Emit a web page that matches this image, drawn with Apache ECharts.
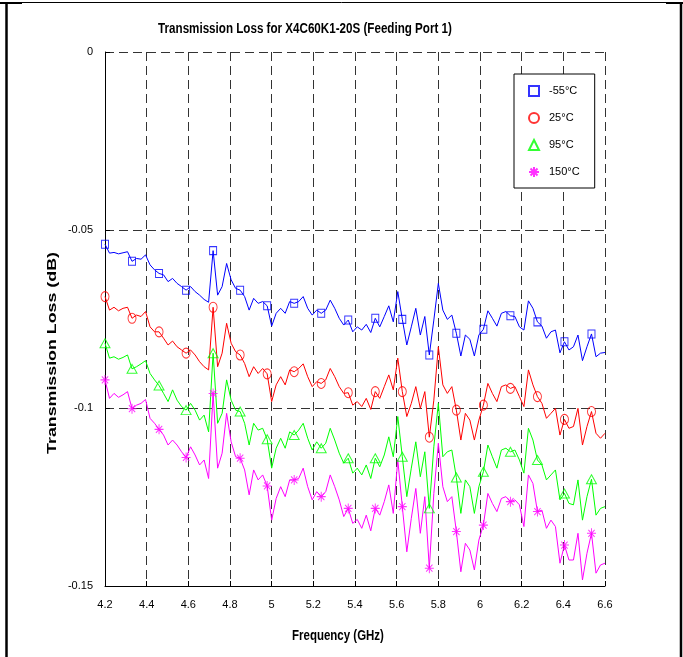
<!DOCTYPE html>
<html>
<head>
<meta charset="utf-8">
<script src="https://cdn.jsdelivr.net/npm/echarts@6/dist/echarts.min.js"></script>
<style>
html,body{margin:0;padding:0;background:#fff;}
#chart{width:683px;height:657px;}
</style>
</head>
<body>
<div id="chart"></div>
<script>
// Frequency sweep (GHz): measurement grid
const FREQ_START = 4.2;
const FREQ_STOP = 6.6;
const N_POINTS = 112;
const MARKER_STEP = 6;

const seriesNames = ['-55°C', '25°C', '95°C', '150°C'];

const loss_m55 = [
 -0.0540,-0.0565,-0.0563,-0.0567,-0.0564,-0.0561,-0.0588,-0.0580,-0.0582,-0.0570,
 -0.0598,-0.0612,-0.0622,-0.0626,-0.0645,-0.0636,-0.0650,-0.0659,-0.0669,-0.0659,
 -0.0673,-0.0683,-0.0695,-0.0703,-0.0558,-0.0683,-0.0659,-0.0594,-0.0640,-0.0664,
 -0.0669,-0.0687,-0.0725,-0.0692,-0.0706,-0.0701,-0.0713,-0.0770,-0.0734,-0.0720,
 -0.0734,-0.0701,-0.0706,-0.0701,-0.0687,-0.0720,-0.0739,-0.0725,-0.0734,-0.0725,
 -0.0697,-0.0720,-0.0748,-0.0767,-0.0753,-0.0786,-0.0772,-0.0781,-0.0765,-0.0788,
 -0.0748,-0.0772,-0.0743,-0.0713,-0.0758,-0.0673,-0.0751,-0.0823,-0.0772,-0.0720,
 -0.0795,-0.0743,-0.0851,-0.0753,-0.0650,-0.0725,-0.0751,-0.0739,-0.0790,-0.0854,
 -0.0795,-0.0807,-0.0854,-0.0795,-0.0779,-0.0727,-0.0748,-0.0770,-0.0734,-0.0729,
 -0.0741,-0.0743,-0.0772,-0.0781,-0.0699,-0.0720,-0.0758,-0.0770,-0.0804,-0.0786,
 -0.0781,-0.0845,-0.0814,-0.0837,-0.0828,-0.0795,-0.0867,-0.0828,-0.0792,-0.0856,
 -0.0846,-0.0844
];
const loss_25 = [
 -0.0687,-0.0725,-0.0717,-0.0727,-0.0720,-0.0717,-0.0748,-0.0739,-0.0743,-0.0729,
 -0.0772,-0.0786,-0.0786,-0.0804,-0.0823,-0.0812,-0.0828,-0.0837,-0.0846,-0.0837,
 -0.0851,-0.0870,-0.0884,-0.0893,-0.0717,-0.0884,-0.0846,-0.0762,-0.0818,-0.0842,
 -0.0851,-0.0875,-0.0912,-0.0884,-0.0903,-0.0889,-0.0904,-0.0982,-0.0935,-0.0912,
 -0.0935,-0.0893,-0.0898,-0.0889,-0.0876,-0.0912,-0.0940,-0.0926,-0.0931,-0.0921,
 -0.0889,-0.0912,-0.0940,-0.0959,-0.0957,-0.0992,-0.0982,-0.0996,-0.0973,-0.1004,
 -0.0954,-0.0973,-0.0940,-0.0907,-0.0949,-0.0860,-0.0954,-0.1024,-0.0987,-0.0940,
 -0.1001,-0.0954,-0.1082,-0.0978,-0.0828,-0.0935,-0.0959,-0.0940,-0.1006,-0.1090,
 -0.1015,-0.1034,-0.1090,-0.1034,-0.0992,-0.0931,-0.0959,-0.0982,-0.0940,-0.0935,
 -0.0945,-0.0940,-0.0968,-0.0996,-0.0893,-0.0935,-0.0968,-0.0987,-0.1029,-0.1015,
 -0.1001,-0.1076,-0.1032,-0.1057,-0.1052,-0.1001,-0.1104,-0.1052,-0.1010,-0.1071,
 -0.1085,-0.1071
];
const loss_95 = [
 -0.0818,-0.0860,-0.0856,-0.0863,-0.0858,-0.0851,-0.0890,-0.0884,-0.0876,-0.0867,
 -0.0903,-0.0921,-0.0937,-0.0959,-0.0982,-0.0949,-0.0978,-0.0996,-0.1006,-0.0987,
 -0.1006,-0.1034,-0.1020,-0.1067,-0.0846,-0.1043,-0.1015,-0.0921,-0.0978,-0.1006,
 -0.1010,-0.1043,-0.1104,-0.1043,-0.1062,-0.1057,-0.1088,-0.1169,-0.1113,-0.1085,
 -0.1113,-0.1067,-0.1076,-0.1062,-0.1043,-0.1085,-0.1118,-0.1095,-0.1113,-0.1099,
 -0.1057,-0.1090,-0.1127,-0.1155,-0.1141,-0.1183,-0.1169,-0.1188,-0.1160,-0.1198,
 -0.1141,-0.1165,-0.1132,-0.1081,-0.1137,-0.1024,-0.1137,-0.1249,-0.1169,-0.1095,
 -0.1193,-0.1123,-0.1282,-0.1109,-0.0987,-0.1137,-0.1123,-0.1118,-0.1195,-0.1296,
 -0.1202,-0.1221,-0.1296,-0.1221,-0.1179,-0.1104,-0.1137,-0.1169,-0.1118,-0.1113,
 -0.1123,-0.1118,-0.1146,-0.1183,-0.1057,-0.1090,-0.1146,-0.1160,-0.1202,-0.1188,
 -0.1174,-0.1258,-0.1240,-0.1268,-0.1272,-0.1202,-0.1315,-0.1249,-0.1200,-0.1301,
 -0.1282,-0.1277
];
const loss_150 = [
 -0.0921,-0.0973,-0.0959,-0.0970,-0.0963,-0.0954,-0.1002,-0.0992,-0.0987,-0.0976,
 -0.1029,-0.1043,-0.1060,-0.1076,-0.1104,-0.1090,-0.1104,-0.1123,-0.1139,-0.1109,
 -0.1132,-0.1160,-0.1146,-0.1198,-0.0959,-0.1169,-0.1127,-0.1015,-0.1095,-0.1137,
 -0.1141,-0.1174,-0.1244,-0.1174,-0.1202,-0.1188,-0.1219,-0.1315,-0.1254,-0.1221,
 -0.1249,-0.1202,-0.1202,-0.1198,-0.1169,-0.1221,-0.1258,-0.1235,-0.1249,-0.1235,
 -0.1188,-0.1221,-0.1258,-0.1305,-0.1282,-0.1324,-0.1313,-0.1338,-0.1301,-0.1345,
 -0.1282,-0.1301,-0.1263,-0.1216,-0.1296,-0.1146,-0.1277,-0.1404,-0.1310,-0.1226,
 -0.1352,-0.1249,-0.1450,-0.1240,-0.1099,-0.1221,-0.1263,-0.1249,-0.1347,-0.1460,
 -0.1380,-0.1399,-0.1455,-0.1371,-0.1329,-0.1240,-0.1268,-0.1291,-0.1254,-0.1249,
 -0.1263,-0.1258,-0.1272,-0.1333,-0.1188,-0.1212,-0.1291,-0.1287,-0.1338,-0.1315,
 -0.1333,-0.1436,-0.1385,-0.1427,-0.1427,-0.1352,-0.1483,-0.1408,-0.1352,-0.1464,
 -0.1441,-0.1436
];

const allLoss = [loss_m55, loss_25, loss_95, loss_150];

const REG = "'Liberation Sans', Arial, sans-serif";

const colors = ['#0000ff', '#ff0000', '#00ff00', '#ff00ff'];
const symbols = [
  'rect',
  'circle',
  'triangle',
  'path://M5,0L5,10M0,5L10,5M1.5,1.5L8.5,8.5M1.5,8.5L8.5,1.5'
];
const symbolSizes = [[7, 8], [8, 10], [10, 9], [9, 10]];

const freq = [];
for (let i = 0; i < N_POINTS; i++) {
  freq.push(FREQ_START + i * (FREQ_STOP - FREQ_START) / (N_POINTS - 1));
}

const series = [];
allLoss.forEach((arr, k) => {
  series.push({
    name: seriesNames[k] + ' trace',
    type: 'line',
    data: arr.map((v, i) => [freq[i], v]),
    showSymbol: false,
    symbol: 'none',
    lineStyle: { color: colors[k], width: 1 },
    itemStyle: { color: colors[k] },
    animation: false,
    z: 2 + k
  });
});
allLoss.forEach((arr, k) => {
  const pts = [];
  for (let i = 0; i < arr.length; i += MARKER_STEP) pts.push([freq[i], arr[i]]);
  series.push({
    name: seriesNames[k],
    type: 'scatter',
    data: pts,
    symbol: symbols[k],
    symbolSize: symbolSizes[k],
    itemStyle: { color: 'transparent', borderColor: colors[k], borderWidth: 1 },
    animation: false,
    z: 10 + k
  });
});

const chart = echarts.init(document.getElementById('chart'), null, { renderer: 'canvas' });
chart.setOption({
  backgroundColor: '#fff',
  animation: false,
  grid: { left: 105, right: 78, top: 52, bottom: 71, containLabel: false },
  xAxis: {
    type: 'value', min: 4.2, max: 6.6, interval: 0.2,
    axisLine: { onZero: false, lineStyle: { color: '#000', width: 1 } },
    axisTick: { inside: true, length: 5, lineStyle: { color: '#000' } },
    axisLabel: { color: '#000', fontFamily: REG, fontSize: 11, margin: 13 },
    splitLine: { show: true, lineStyle: { color: '#333', type: [9, 5], width: 1 } }
  },
  yAxis: {
    type: 'value', min: -0.15, max: 0, interval: 0.05,
    axisLine: { onZero: false, lineStyle: { color: '#000', width: 1 } },
    axisTick: { inside: true, length: 5, lineStyle: { color: '#000' } },
    axisLabel: { color: '#000', fontFamily: REG, fontSize: 11, margin: 12, padding: [0, 0, 6, 0] },
    splitLine: { show: true, lineStyle: { color: '#333', type: [9, 5], width: 1 } }
  },
  legend: {
    data: seriesNames,
    orient: 'vertical',
    left: 514, top: 74,
    itemGap: 15,
    itemWidth: 10, itemHeight: 10,
    padding: [11, 15, 10, 14],
    backgroundColor: '#fff',
    borderColor: '#000', borderWidth: 1,
    borderRadius: 0,
    textStyle: { color: '#000', fontFamily: REG, fontSize: 11, padding: [0, 0, 0, 5] }
  },
  series: series,
  graphic: [
    { type: 'line', shape: { x1: 0, y1: 2.5, x2: 683, y2: 2.5 }, style: { stroke: '#000', lineWidth: 1 }, silent: true },
    { type: 'line', shape: { x1: 0, y1: 3, x2: 22, y2: 3 }, style: { stroke: '#000', lineWidth: 2 }, silent: true },
    { type: 'line', shape: { x1: 666, y1: 3, x2: 683, y2: 3 }, style: { stroke: '#000', lineWidth: 2 }, silent: true },
    { type: 'line', shape: { x1: 6.5, y1: 2, x2: 6.5, y2: 657 }, style: { stroke: '#000', lineWidth: 2.5 }, silent: true },
    { type: 'line', shape: { x1: 681, y1: 2, x2: 681, y2: 657 }, style: { stroke: '#000', lineWidth: 2.5 }, silent: true },
    { type: 'text', x: 305, y: 29, scaleX: 0.83, style: { text: 'Transmission Loss for X4C60K1-20S (Feeding Port 1)', font: 'bold 14px ' + REG, fill: '#000', align: 'center', verticalAlign: 'middle' }, silent: true },
    { type: 'text', x: 338, y: 636, scaleX: 0.82, style: { text: 'Frequency (GHz)', font: 'bold 14px ' + REG, fill: '#000', align: 'center', verticalAlign: 'middle' }, silent: true },
    { type: 'text', x: 52, y: 353, rotation: Math.PI / 2, scaleX: 1.37, style: { text: 'Transmission Loss (dB)', font: 'bold 13px ' + REG, fill: '#000', align: 'center', verticalAlign: 'middle' }, silent: true }
  ]
});
</script>
</body>
</html>
